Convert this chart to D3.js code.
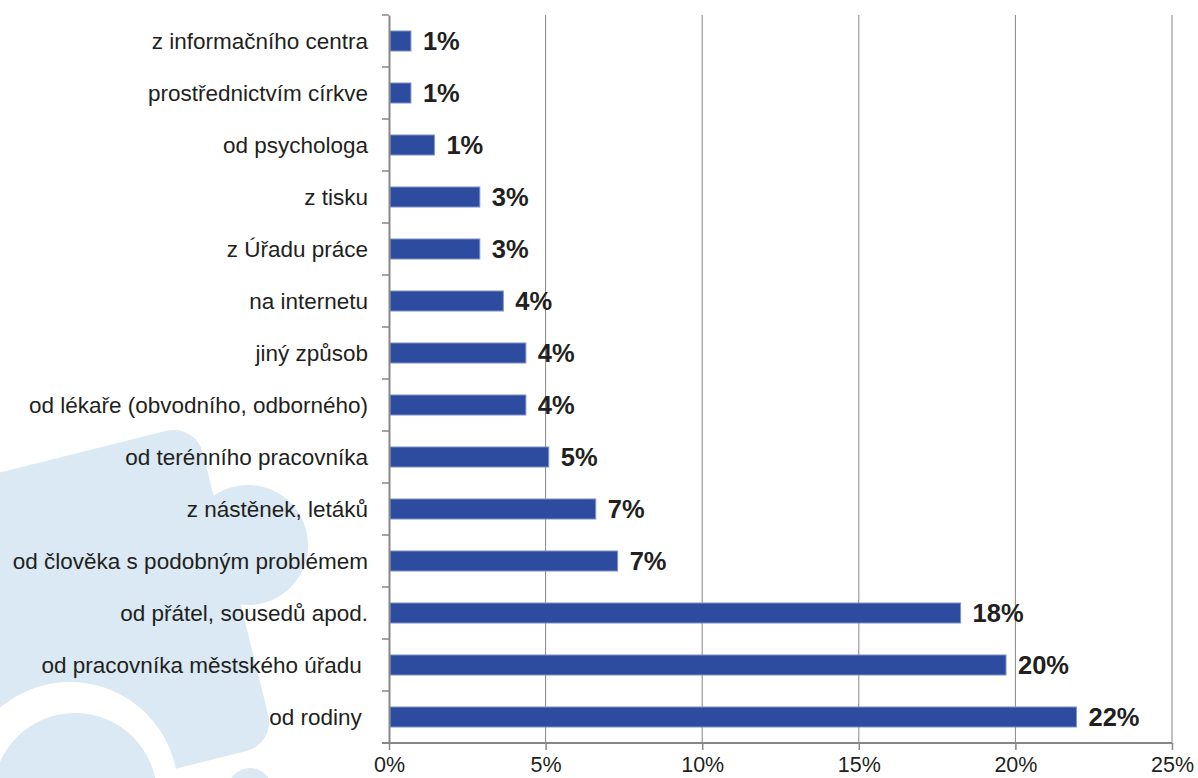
<!DOCTYPE html>
<html>
<head>
<meta charset="utf-8">
<script src="https://cdn.jsdelivr.net/npm/d3@7"></script>
<style>
  body { margin: 0; background: #fff; }
  svg { display: block; }
</style>
</head>
<body>
<svg class="chart"></svg>
<script>
// kategorie shora dolu
var categories = [
  "z informačního centra",
  "prostřednictvím církve",
  "od psychologa",
  "z tisku",
  "z Úřadu práce",
  "na internetu",
  "jiný způsob",
  "od lékaře (obvodního, odborného)",
  "od terénního pracovníka",
  "z nástěnek, letáků",
  "od člověka s podobným problémem",
  "od přátel, sousedů apod.",
  "od pracovníka městského úřadu ",
  "od rodiny "
];
var values = [0.7, 0.7, 1.45, 2.9, 2.9, 3.65, 4.37, 4.37, 5.1, 6.6, 7.3, 18.25, 19.7, 21.95];
var valueLabels = ["1%", "1%", "1%", "3%", "3%", "4%", "4%", "4%", "5%", "7%", "7%", "18%", "20%", "22%"];
var xTicks = [0, 5, 10, 15, 20, 25];

var width = 1198;
var height = 778;
var plotLeft = 389, plotRight = 1172, plotTop = 15, plotBottom = 743;

var svg = d3.select(".chart").attr("width", width).attr("height", height);

// svetle modry puzzle v pozadi
var bg = svg.append("g").attr("fill", "#dae9f4");
bg.append("rect")
  .attr("x", -60).attr("y", 455).attr("width", 300).attr("height", 330)
  .attr("rx", 30)
  .attr("transform", "rotate(-14 90 620)");
bg.append("circle").attr("cx", 248).attr("cy", 545).attr("r", 60);
bg.append("circle").attr("cx", 70).attr("cy", 790).attr("r", 108).attr("fill", "#fff");
bg.append("circle").attr("cx", 75).attr("cy", 795).attr("r", 82);
bg.append("circle").attr("cx", 250).attr("cy", 790).attr("r", 22);

var x = d3.scaleLinear().domain([0, 25]).range([plotLeft, plotRight]);
var y = d3.scaleBand()
  .domain(categories)
  .range([plotTop, plotBottom])
  .paddingInner(0.615)
  .paddingOuter(0.3075);

var axisColor = "#878787";
var font = "Liberation Sans, Arial, sans-serif";

// mrizka
svg.append("g")
  .selectAll("line")
  .data(xTicks.slice(1))
  .enter()
  .append("line")
  .attr("x1", function (d) { return x(d); })
  .attr("x2", function (d) { return x(d); })
  .attr("y1", plotTop)
  .attr("y2", plotBottom)
  .attr("stroke", axisColor)
  .attr("stroke-width", 1);

// sloupce
svg.append("g")
  .selectAll("rect")
  .data(values)
  .enter()
  .append("rect")
  .attr("x", x(0) + 1)
  .attr("y", function (d, i) { return y(categories[i]); })
  .attr("width", function (d) { return x(d) - x(0) - 1; })
  .attr("height", y.bandwidth())
  .attr("fill", "#2d4c9f")
  .attr("stroke", "#7f93c8")
  .attr("stroke-width", 1);

// osa y
var yAxis = d3.axisLeft(y).tickSize(0).tickPadding(21);
var gy = svg.append("g")
  .attr("transform", "translate(" + plotLeft + ",0)")
  .call(yAxis);
gy.select(".domain").attr("stroke", axisColor).attr("stroke-width", 2);
gy.selectAll("text")
  .attr("fill", "#231f20")
  .attr("dy", "0.36em")
  .style("font-family", font)
  .style("font-size", "22.5px")
  .style("white-space", "pre");

// carky mezi kategoriemi
var step = y.step();
svg.append("g")
  .selectAll("line")
  .data(d3.range(categories.length + 1))
  .enter()
  .append("line")
  .attr("x1", plotLeft - 7)
  .attr("x2", plotLeft)
  .attr("y1", function (d) { return plotTop + d * step; })
  .attr("y2", function (d) { return plotTop + d * step; })
  .attr("stroke", axisColor)
  .attr("stroke-width", 1.5);

// osa x
var xAxis = d3.axisBottom(x)
  .tickValues(xTicks)
  .tickSize(7)
  .tickPadding(7)
  .tickFormat(function (d) { return d + "%"; });
var gx = svg.append("g")
  .attr("transform", "translate(0," + plotBottom + ")")
  .call(xAxis);
gx.select(".domain").attr("stroke", axisColor).attr("stroke-width", 2)
  .attr("d", "M" + (plotLeft - 7) + ",0H" + plotRight);
gx.selectAll(".tick line").attr("stroke", axisColor).attr("stroke-width", 1.5);
gx.selectAll("text")
  .attr("fill", "#231f20")
  .style("font-family", font)
  .style("font-size", "21.5px");

// popisky hodnot
svg.append("g")
  .selectAll("text")
  .data(values)
  .enter()
  .append("text")
  .attr("x", function (d) { return x(d) + 12; })
  .attr("y", function (d, i) { return y(categories[i]) + y.bandwidth() / 2; })
  .attr("dy", "0.36em")
  .attr("fill", "#231f20")
  .style("font-family", font)
  .style("font-size", "25.5px")
  .style("font-weight", "bold")
  .text(function (d, i) { return valueLabels[i]; });
</script>
</body>
</html>
